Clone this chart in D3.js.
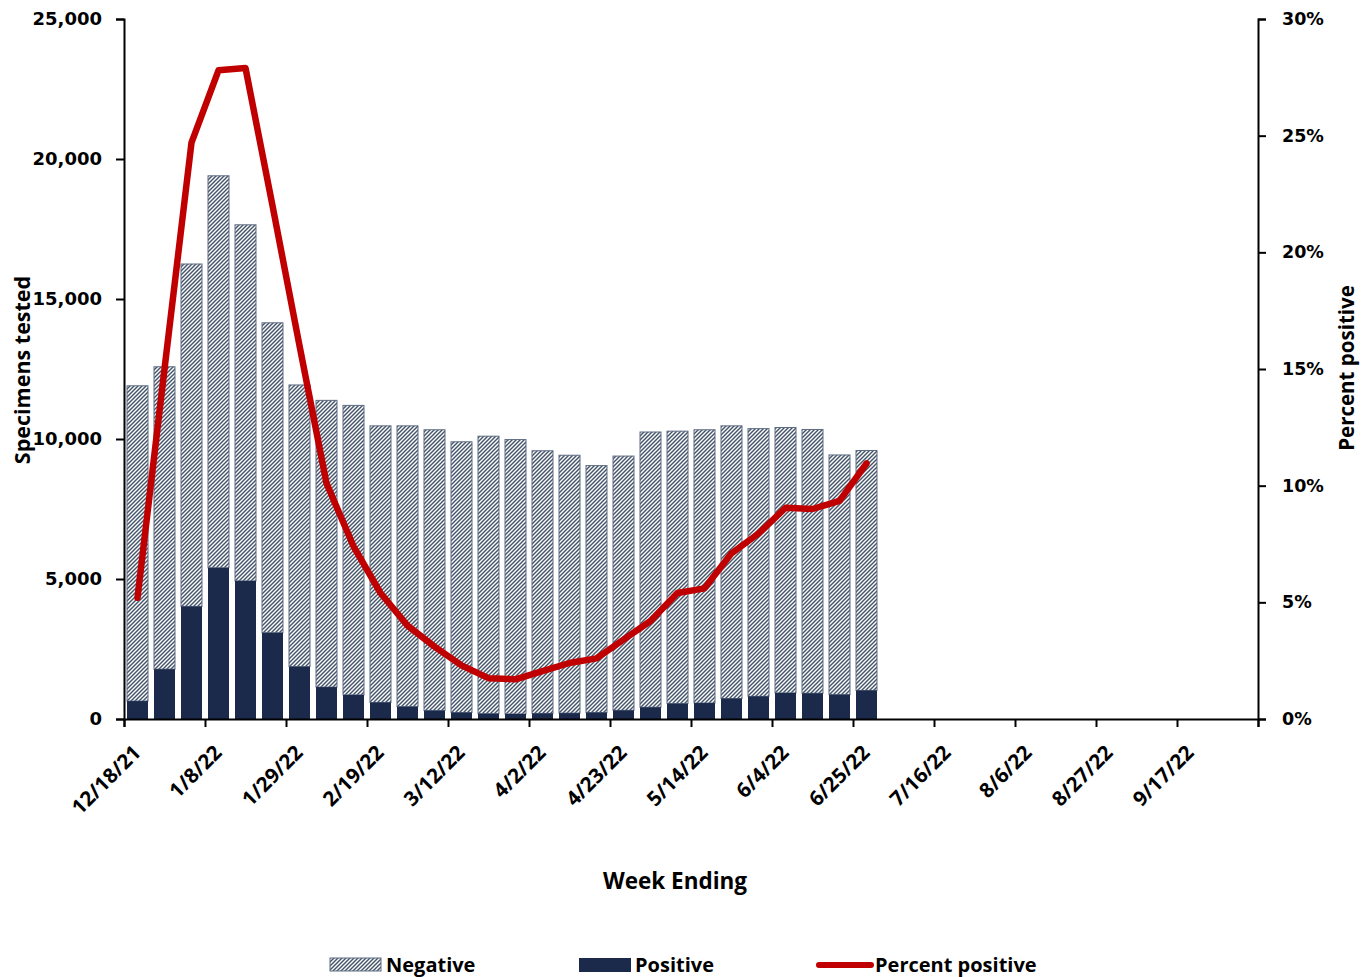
<!DOCTYPE html>
<html>
<head>
<meta charset="utf-8">
<script src="https://cdn.jsdelivr.net/npm/d3@7"></script>
<style>
  body { margin: 0; background: #fff; }
  svg { display: block; font-family: 'Open Sans', sans-serif; }
</style>
</head>
<body>
<svg id="chart" width="1371" height="977"></svg>
<script>
// week ending dates for the bars (weekly, first one 12/18/21)
const firstWeek = new Date(Date.UTC(2021, 11, 18))
const weeks = d3.range(28).map(i => d3.utcDay.offset(firstWeek, 7 * i))

const negative = [11260, 10800, 12230, 14000, 12720, 11070, 10060, 10240, 10340, 9880,
                  10030, 10030, 9670, 9910, 9800, 9380, 9210, 8820, 9080, 9830,
                  9730, 9760, 9740, 9560, 9480, 9420, 8560, 8570]
const positive = [640, 1780, 4020, 5400, 4930, 3080, 1870, 1140, 860, 590,
                  440, 300, 230, 190, 180, 200, 210, 230, 310, 420,
                  550, 570, 730, 810, 930, 920, 870, 1020]
const pctPositive = [5.2, 15.0, 24.7, 27.8, 27.9, 22.0, 16.0, 10.1, 7.4, 5.4,
                     4.0, 3.1, 2.3, 1.75, 1.7, 2.05, 2.4, 2.6, 3.4, 4.2,
                     5.4, 5.6, 7.1, 7.95, 9.05, 9.0, 9.35, 10.95]

const leftTicks = [0, 5000, 10000, 15000, 20000, 25000]
const rightTicks = [0, 5, 10, 15, 20, 25, 30]
// x axis runs 42 weeks, a tick every 3 weeks
const axisEnd = d3.utcDay.offset(firstWeek, 7 * 42)
const xTicks = d3.range(15).map(i => d3.utcDay.offset(firstWeek, 21 * i))

const margin = { left: 124, right: 1258, top: 19, bottom: 719 }
const col_neg = '#44546a'
const col_pos = '#1b2a4b'
const col_line = '#c00000'

var svg = d3.select('#chart')

var x = d3.scaleUtc().domain([firstWeek, axisEnd]).range([margin.left, margin.right])
var yL = d3.scaleLinear().domain([0, 25000]).range([margin.bottom, margin.top])
var yR = d3.scaleLinear().domain([0, 30]).range([margin.bottom, margin.top])

// hatch pattern for negatives ("/" stripes)
var defs = svg.append('defs')
var pat = defs.append('pattern')
    .attr('id', 'hatch')
    .attr('patternUnits', 'userSpaceOnUse')
    .attr('width', 4).attr('height', 4)
pat.append('rect').attr('width', 4).attr('height', 4).attr('fill', '#fff')
pat.append('path')
    .attr('d', 'M-1,5 L5,-1 M-1,1 L1,-1 M3,5 L5,3')
    .attr('stroke', col_neg)
    .attr('stroke-width', 1.45)

const barW = 21
const center = (d) => x(d3.utcHour.offset(d, 84))

var bars = svg.append('g')
bars.selectAll('rect.neg')
    .data(weeks).enter()
    .append('rect')
    .attr('class', 'neg')
    .attr('x', (d) => center(d) - barW / 2)
    .attr('width', barW)
    .attr('y', (d, i) => yL(positive[i] + negative[i]))
    .attr('height', (d, i) => yL(positive[i]) - yL(positive[i] + negative[i]))
    .attr('fill', 'url(#hatch)')
    .attr('stroke', '#5d6c82')
    .attr('stroke-width', 1)

bars.selectAll('rect.pos')
    .data(weeks).enter()
    .append('rect')
    .attr('class', 'pos')
    .attr('x', (d) => center(d) - barW / 2)
    .attr('width', barW)
    .attr('y', (d, i) => yL(positive[i]))
    .attr('height', (d, i) => yL(0) - yL(positive[i]))
    .attr('fill', col_pos)

// percent positive line
var line = d3.line()
    .x((d, i) => center(weeks[i]))
    .y((d) => yR(d))
svg.append('path')
    .datum(pctPositive)
    .attr('d', line)
    .attr('fill', 'none')
    .attr('stroke', col_line)
    .attr('stroke-width', 6.5)
    .attr('stroke-linejoin', 'round')
    .attr('stroke-linecap', 'round')

// axes
var fmt = d3.utcFormat('%-m/%-d/%y')

var xAxis = svg.append('g')
    .attr('transform', `translate(0,${margin.bottom})`)
    .call(d3.axisBottom(x).tickValues(xTicks).tickSize(8).tickFormat(''))
xAxis.select('.domain').attr('stroke', '#000').attr('stroke-width', 2)
xAxis.selectAll('.tick line').attr('stroke-width', 2)

svg.append('g').selectAll('text')
    .data(xTicks.slice(0, 14)).enter()
    .append('text')
    .attr('transform', (d) => `translate(${x(d) + 18},${margin.bottom + 35}) rotate(-45)`)
    .attr('text-anchor', 'end')
    .style('font-size', '20.5px')
    .style('font-weight', 'bold')
    .text((d) => fmt(d))

var leftAxis = svg.append('g')
    .attr('transform', `translate(${margin.left},0)`)
    .call(d3.axisLeft(yL).tickValues(leftTicks).tickSize(8).tickPadding(14).tickFormat(d3.format(',')))
leftAxis.select('.domain').attr('stroke-width', 2)
leftAxis.selectAll('.tick line').attr('stroke-width', 2)
leftAxis.selectAll('text')
    .style('font-family', 'DejaVu Sans')
    .style('font-size', '18px')
    .style('font-weight', 'bold')
    .attr('fill', '#000')

var rightAxis = svg.append('g')
    .attr('transform', `translate(${margin.right},0)`)
    .call(d3.axisRight(yR).tickValues(rightTicks).tickSize(8).tickPadding(16).tickFormat((d) => d + '%'))
rightAxis.select('.domain').attr('stroke-width', 2)
rightAxis.selectAll('.tick line').attr('stroke-width', 2)
rightAxis.selectAll('text')
    .style('font-family', 'DejaVu Sans')
    .style('font-size', '17.5px')
    .style('font-weight', 'bold')
    .attr('fill', '#000')

// axis titles
svg.append('text')
    .attr('transform', `translate(30,370) rotate(-90)`)
    .attr('text-anchor', 'middle')
    .style('font-size', '21.5px')
    .style('font-weight', 'bold')
    .text('Specimens tested')

svg.append('text')
    .attr('transform', `translate(1354,368) rotate(-90)`)
    .attr('text-anchor', 'middle')
    .style('font-size', '20.5px')
    .style('font-weight', 'bold')
    .text('Percent positive')

svg.append('text')
    .attr('x', 675).attr('y', 889)
    .attr('text-anchor', 'middle')
    .style('font-size', '22.5px')
    .style('font-weight', 'bold')
    .text('Week Ending')

// legend
var legend = svg.append('g').style('font-size', '20px').style('font-weight', 'bold')
legend.append('rect').attr('x', 330).attr('y', 958).attr('width', 51).attr('height', 13)
    .attr('fill', 'url(#hatch)').attr('stroke', '#5d6c82')
legend.append('text').attr('x', 386).attr('y', 972).text('Negative')
legend.append('rect').attr('x', 579).attr('y', 958).attr('width', 52).attr('height', 14)
    .attr('fill', col_pos)
legend.append('text').attr('x', 635).attr('y', 972).text('Positive')
legend.append('line').attr('x1', 819).attr('x2', 871).attr('y1', 965).attr('y2', 965)
    .attr('stroke', col_line).attr('stroke-width', 6).attr('stroke-linecap', 'round')
legend.append('text').attr('x', 875).attr('y', 972).text('Percent positive')
</script>
</body>
</html>
